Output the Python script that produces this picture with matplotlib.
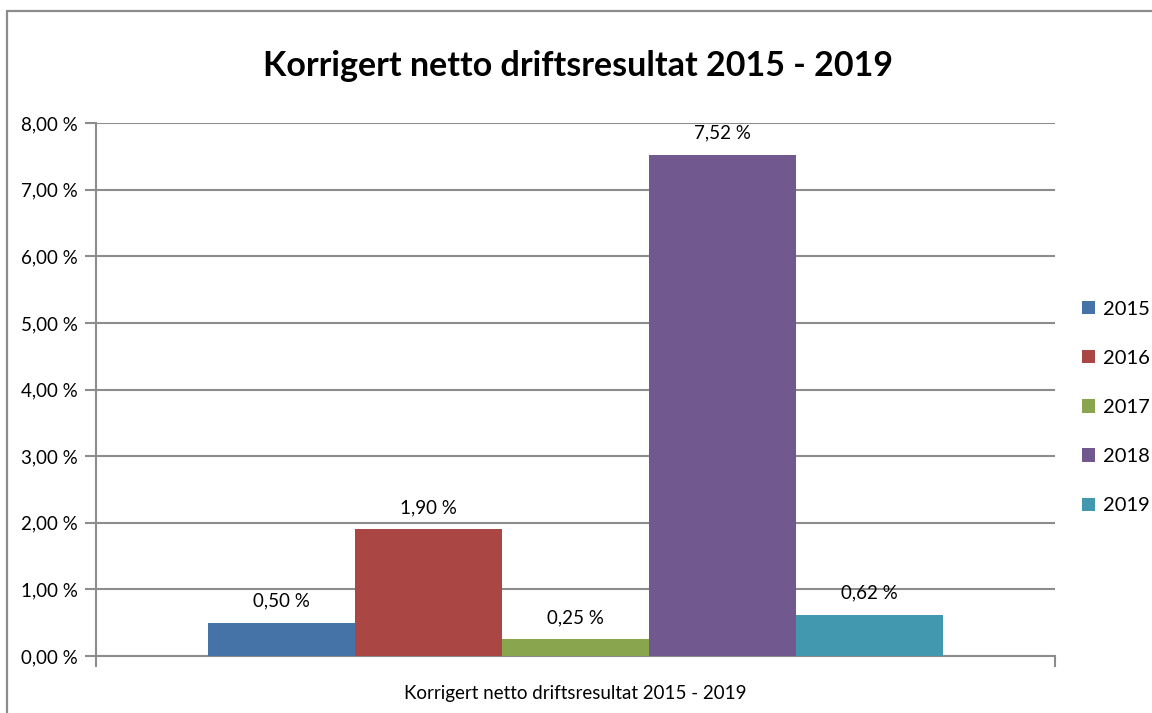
import matplotlib.pyplot as plt
from matplotlib.patches import Rectangle
from matplotlib.ticker import FuncFormatter, MultipleLocator

years = ['2015', '2016', '2017', '2018', '2019']
values = [0.50, 1.90, 0.25, 7.52, 0.62]
colors = ['#4572A7', '#AA4643', '#89A54E', '#71588F', '#4198AF']
title = 'Korrigert netto driftsresultat 2015 - 2019'
category = 'Korrigert netto driftsresultat 2015 - 2019'

plt.rcParams['font.family'] = ['Lato', 'DejaVu Sans']


def pct(v):
    return ('%.2f %%' % v).replace('.', ',')


fig = plt.figure(figsize=(11.52, 7.13), dpi=100)
ax = fig.add_axes([0.0833, 0.0799, 0.8325, 0.7475])

# outer chart frame (cut off at right and bottom like the screenshot)
fig.patches.append(Rectangle((7 / 1152, -0.1), 1.2, 1 - 11 / 713 + 0.1,
                             transform=fig.transFigure, fill=False,
                             edgecolor='#8c8c8c', linewidth=1.6))

bw = 0.1533
n = len(values)
for i, (y, v, c) in enumerate(zip(years, values, colors)):
    x = (i - (n - 1) / 2) * bw
    ax.bar(x, v, width=bw, color=c, label=y, zorder=3)
    ax.text(x, v + 0.2, pct(v), ha='center', va='bottom', fontsize=13.5)

ax.set_xlim(-0.5, 0.5)
ax.set_ylim(0, 8)
ax.yaxis.set_major_locator(MultipleLocator(1))
ax.yaxis.set_major_formatter(FuncFormatter(lambda v, p: pct(v)))
ax.grid(axis='y', color='#8c8c8c', linewidth=1.5, zorder=0)
ax.set_xticks([-0.5, 0.5])
ax.set_xticklabels(['', ''])
ax.tick_params(axis='x', length=8, width=1.5, color='#8c8c8c')
ax.tick_params(axis='y', length=8, width=1.5, color='#8c8c8c',
               labelsize=13.5, pad=5)
for s in ['top', 'right']:
    ax.spines[s].set_visible(False)
for s in ['left', 'bottom']:
    ax.spines[s].set_color('#8c8c8c')
    ax.spines[s].set_linewidth(1.5)

ax.text(0, -0.055, category, transform=ax.get_xaxis_transform(),
        ha='center', va='top', fontsize=13.5)

fig.text(0.502, 0.907, title, ha='center', va='center', fontsize=24.5,
         fontweight='bold')

ax.legend(loc='center left', bbox_to_anchor=(1.02, 0.5 - 18 / 533),
          frameon=False, fontsize=14.5, handlelength=0.65, handleheight=0.65,
          labelspacing=1.6, handletextpad=0.4, borderaxespad=0.0)

fig.savefig('out.png', dpi=100)
